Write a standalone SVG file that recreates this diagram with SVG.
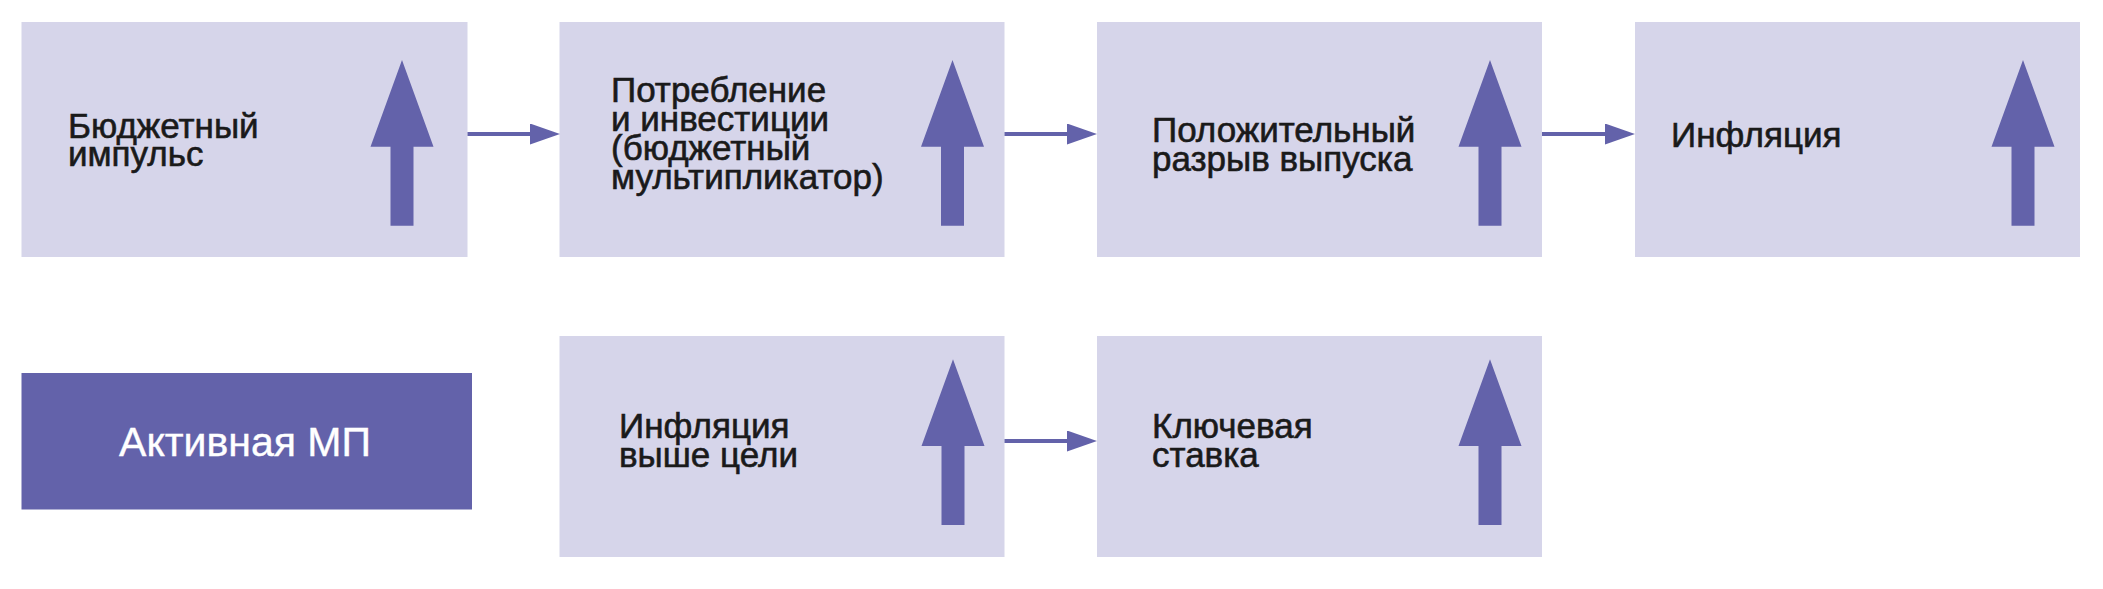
<svg xmlns="http://www.w3.org/2000/svg" xmlns:xlink="http://www.w3.org/1999/xlink" width="2103" height="589" viewBox="0 0 2103 589">
<style>
.box{fill:#D6D5EA;}
.dark{fill:#6362AA;}
.lbl{font-family:"Liberation Sans",Arial,sans-serif;font-size:35px;fill:#1A1A1A;stroke:#1A1A1A;stroke-width:0.6px;}
.wlbl{font-family:"Liberation Sans",Arial,sans-serif;font-size:41px;fill:#FFFFFF;stroke:#FFFFFF;stroke-width:0.4px;}
.conn{stroke:#6362AA;stroke-width:4;fill:none;}
</style>
<defs>
<path id="up" class="dark" d="M0,0 L31.5,86.7 L11.5,86.7 L11.5,165.7 L-11.5,165.7 L-11.5,86.7 L-31.5,86.7 Z"/>
<marker id="ah" viewBox="0 0 30 21" refX="0" refY="10.5" markerWidth="30" markerHeight="21" markerUnits="userSpaceOnUse" orient="auto">
<path d="M0,0 L30,10.5 L0,21 Z" fill="#6362AA"/>
</marker>
</defs>
<rect width="2103" height="589" fill="#FFFFFF"/>
<g id="n1">
<rect class="box" x="21.5" y="22" width="446" height="235"/>
<text class="lbl"><tspan x="68" y="137.5">Бюджетный</tspan><tspan x="68" y="166">импульс</tspan></text>
<use xlink:href="#up" href="#up" x="402" y="60"/>
</g>
<g id="n2">
<rect class="box" x="559.5" y="22" width="445" height="235"/>
<text class="lbl"><tspan x="611" y="101.5">Потребление</tspan><tspan x="611" y="130.5">и инвестиции</tspan><tspan x="611" y="159.5">(бюджетный</tspan><tspan x="611" y="188.5">мультипликатор)</tspan></text>
<use xlink:href="#up" href="#up" x="952.5" y="60"/>
</g>
<g id="n3">
<rect class="box" x="1097" y="22" width="445" height="235"/>
<text class="lbl"><tspan x="1152" y="141.7">Положительный</tspan><tspan x="1152" y="170.7">разрыв выпуска</tspan></text>
<use xlink:href="#up" href="#up" x="1490" y="60"/>
</g>
<g id="n4">
<rect class="box" x="1635" y="22" width="445" height="235"/>
<text class="lbl" x="1671" y="146.7">Инфляция</text>
<use xlink:href="#up" href="#up" x="2023" y="60"/>
</g>
<g id="n5">
<rect class="dark" x="21.5" y="373" width="450.5" height="136.5"/>
<text class="wlbl" x="245" y="456" text-anchor="middle">Активная МП</text>
</g>
<g id="n6">
<rect class="box" x="559.5" y="336" width="445" height="221"/>
<text class="lbl"><tspan x="619" y="438.3">Инфляция</tspan><tspan x="619" y="467.3">выше цели</tspan></text>
<use xlink:href="#up" href="#up" x="953" y="359.3"/>
</g>
<g id="n7">
<rect class="box" x="1097" y="336" width="445" height="221"/>
<text class="lbl"><tspan x="1152" y="438.3">Ключевая</tspan><tspan x="1152" y="467.3">ставка</tspan></text>
<use xlink:href="#up" href="#up" x="1490" y="359.3"/>
</g>
<g id="connectors">
<line class="conn" x1="467.5" y1="134" x2="530" y2="134" marker-end="url(#ah)"/>
<line class="conn" x1="1004.5" y1="134" x2="1067" y2="134" marker-end="url(#ah)"/>
<line class="conn" x1="1542" y1="134" x2="1605" y2="134" marker-end="url(#ah)"/>
<line class="conn" x1="1004.5" y1="441" x2="1067" y2="441" marker-end="url(#ah)"/>
</g>
</svg>
